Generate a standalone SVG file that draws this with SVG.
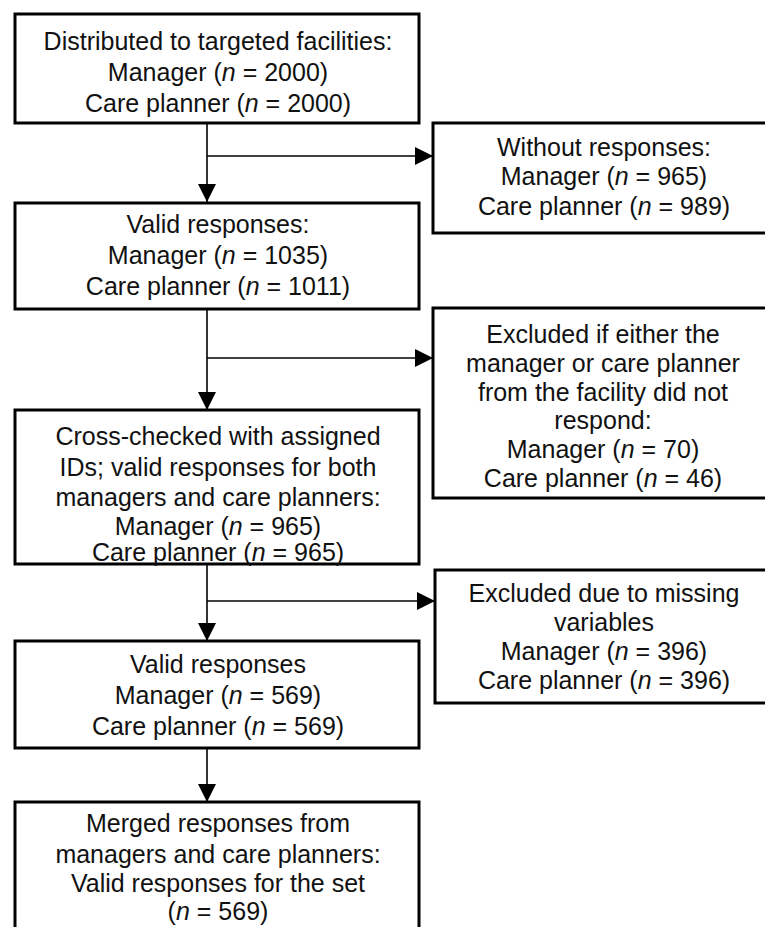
<svg xmlns="http://www.w3.org/2000/svg" width="765" height="927" viewBox="0 0 765 927">
<style>
.box{fill:#fff;stroke:#000;stroke-width:3}
.t{font-family:"Liberation Sans",Arial,sans-serif;font-size:25px;fill:#111;text-anchor:middle}
.i{font-style:italic}
.c{fill:none;stroke:#000;stroke-width:1.6}
</style>
<defs>
<marker id="ah" markerUnits="userSpaceOnUse" markerWidth="18" markerHeight="18" viewBox="0 0 18 18" refX="18" refY="9" orient="auto">
<path d="M0,0 L18,9 L0,18 Z" fill="#000"/>
</marker>
</defs>
<rect width="765" height="927" fill="#fff"/>
<g id="connectors">
<path class="c" d="M207,123 V202" marker-end="url(#ah)"/>
<path class="c" d="M207,156 H433" marker-end="url(#ah)"/>
<path class="c" d="M207,309 V410" marker-end="url(#ah)"/>
<path class="c" d="M207,358 H433" marker-end="url(#ah)"/>
<path class="c" d="M207,564 V641" marker-end="url(#ah)"/>
<path class="c" d="M207,601 H435" marker-end="url(#ah)"/>
<path class="c" d="M207,748 V802" marker-end="url(#ah)"/>
</g>
<g id="n1">
<rect class="box" x="15" y="14" width="404" height="109"/>
<text class="t" x="218" y="50">Distributed to targeted facilities:</text>
<text class="t" x="218" y="81">Manager (<tspan class="i">n</tspan> = 2000)</text>
<text class="t" x="218" y="112">Care planner (<tspan class="i">n</tspan> = 2000)</text>
</g>
<g id="n2">
<rect class="box" x="433" y="123" width="345" height="110"/>
<text class="t" x="604" y="156">Without responses:</text>
<text class="t" x="604" y="185">Manager (<tspan class="i">n</tspan> = 965)</text>
<text class="t" x="604" y="215">Care planner (<tspan class="i">n</tspan> = 989)</text>
</g>
<g id="n3">
<rect class="box" x="15" y="203" width="404" height="106"/>
<text class="t" x="218" y="233">Valid responses:</text>
<text class="t" x="218" y="264">Manager (<tspan class="i">n</tspan> = 1035)</text>
<text class="t" x="218" y="295">Care planner (<tspan class="i">n</tspan> = 1011)</text>
</g>
<g id="n4">
<rect class="box" x="433" y="308" width="345" height="190"/>
<text class="t" x="603" y="343">Excluded if either the</text>
<text class="t" x="603" y="372">manager or care planner</text>
<text class="t" x="603" y="401">from the facility did not</text>
<text class="t" x="603" y="429">respond:</text>
<text class="t" x="603" y="458">Manager (<tspan class="i">n</tspan> = 70)</text>
<text class="t" x="603" y="487">Care planner (<tspan class="i">n</tspan> = 46)</text>
</g>
<g id="n5">
<rect class="box" x="15" y="410" width="404" height="154"/>
<text class="t" x="218" y="445">Cross-checked with assigned</text>
<text class="t" x="218" y="476">IDs; valid responses for both</text>
<text class="t" x="218" y="506">managers and care planners:</text>
<text class="t" x="218" y="535">Manager (<tspan class="i">n</tspan> = 965)</text>
<text class="t" x="218" y="561">Care planner (<tspan class="i">n</tspan> = 965)</text>
</g>
<g id="n6">
<rect class="box" x="435" y="570" width="343" height="133"/>
<text class="t" x="604" y="602">Excluded due to missing</text>
<text class="t" x="604" y="631">variables</text>
<text class="t" x="604" y="660">Manager (<tspan class="i">n</tspan> = 396)</text>
<text class="t" x="604" y="689">Care planner (<tspan class="i">n</tspan> = 396)</text>
</g>
<g id="n7">
<rect class="box" x="15" y="641" width="404" height="107"/>
<text class="t" x="218" y="673">Valid responses</text>
<text class="t" x="218" y="704">Manager (<tspan class="i">n</tspan> = 569)</text>
<text class="t" x="218" y="735">Care planner (<tspan class="i">n</tspan> = 569)</text>
</g>
<g id="n8">
<rect class="box" x="15" y="802" width="404" height="140"/>
<text class="t" x="218" y="832">Merged responses from</text>
<text class="t" x="218" y="863">managers and care planners:</text>
<text class="t" x="218" y="892">Valid responses for the set</text>
<text class="t" x="218" y="920">(<tspan class="i">n</tspan> = 569)</text>
</g>
</svg>
